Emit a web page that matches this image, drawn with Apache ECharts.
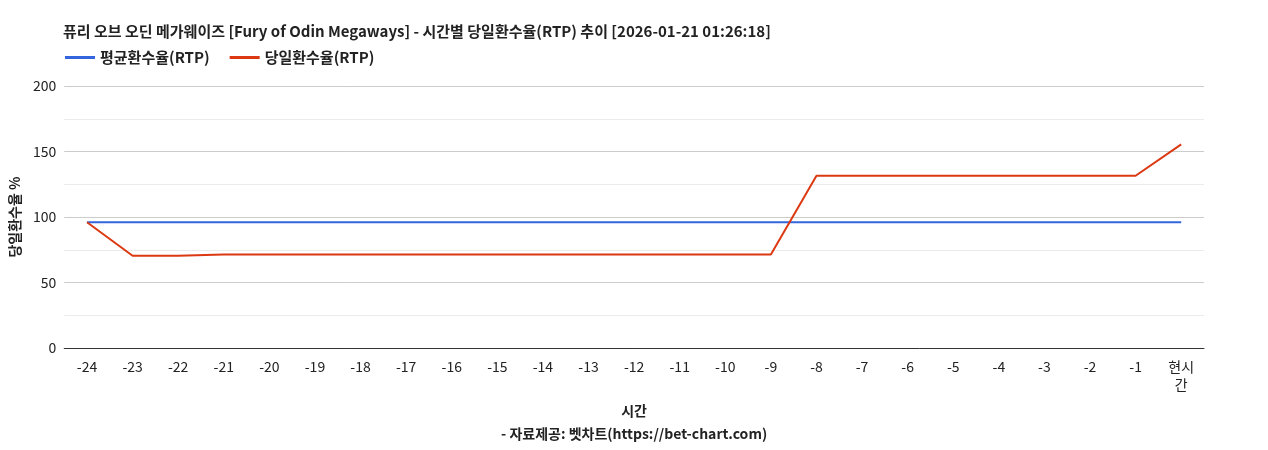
<!DOCTYPE html>
<html>
<head>
<meta charset="utf-8">
<script src="https://cdn.jsdelivr.net/npm/echarts@6/dist/echarts.min.js"></script>
<style>html,body{margin:0;padding:0;background:#fff}#chart{width:1268px;height:450px}</style>
</head>
<body>
<div id="chart"></div>
<script>
var hours = ['-24','-23','-22','-21','-20','-19','-18','-17','-16','-15','-14','-13','-12','-11','-10','-9','-8','-7','-6','-5','-4','-3','-2','-1','현시\n간'];
var avgRtp = [96,96,96,96,96,96,96,96,96,96,96,96,96,96,96,96,96,96,96,96,96,96,96,96,96];
var dayRtp = [96,70.5,70.5,71.5,71.5,71.5,71.5,71.5,71.5,71.5,71.5,71.5,71.5,71.5,71.5,71.5,131.5,131.5,131.5,131.5,131.5,131.5,131.5,131.5,155.5];

var myChart = echarts.init(document.getElementById('chart'));
var fam = 'Noto Sans CJK KR, Roboto, sans-serif';
myChart.setOption({
	animation: false,
	textStyle: { fontFamily: fam },
	title: {
		left: 58, top: 19,
		text: '퓨리 오브 오딘 메가웨이즈 [Fury of Odin Megaways] - 시간별 당일환수율(RTP) 추이 [2026-01-21 01:26:18]',
		textStyle: { fontSize: 15, fontWeight: 'bold', color: '#222', fontFamily: fam }
	},
	legend: {
		left: 60, top: 45,
		itemWidth: 30, itemHeight: 3, itemGap: 20,
		icon: 'rect',
		textStyle: { fontSize: 15, fontWeight: 'bold', color: '#222' },
		data: ['평균환수율(RTP)', '당일환수율(RTP)']
	},
	grid: { left: 63, right: 64, top: 86, bottom: 73 },
	xAxis: {
		type: 'category',
		data: hours,
		name: '시간\n- 자료제공: 벳차트(https://bet-chart.com)',
		nameLocation: 'middle',
		nameGap: 41,
		nameTextStyle: { fontSize: 14, fontWeight: 'bold', color: '#222', lineHeight: 23 },
		axisLine: { lineStyle: { color: '#333' } },
		axisTick: { show: false },
		axisLabel: { fontSize: 14, color: '#222', margin: 10, lineHeight: 18 }
	},
	yAxis: {
		type: 'value',
		min: 0, max: 200, interval: 50,
		name: '당일환수율 %',
		nameLocation: 'middle',
		nameGap: 40,
		nameTextStyle: { fontSize: 14, fontWeight: 'bold', color: '#222' },
		axisLabel: { fontSize: 14, color: '#222' },
		splitLine: { lineStyle: { color: '#ccc' } },
		minorTick: { show: false, splitNumber: 2 },
		minorSplitLine: { show: true, lineStyle: { color: '#ebebeb' } }
	},
	series: [{
		name: '평균환수율(RTP)',
		type: 'line',
		data: avgRtp,
		symbol: 'none',
		color: '#3366dd',
		lineStyle: { width: 2 }
	}, {
		name: '당일환수율(RTP)',
		type: 'line',
		data: dayRtp,
		symbol: 'none',
		color: '#dc3912',
		lineStyle: { width: 2 }
	}]
});
</script>
</body>
</html>
